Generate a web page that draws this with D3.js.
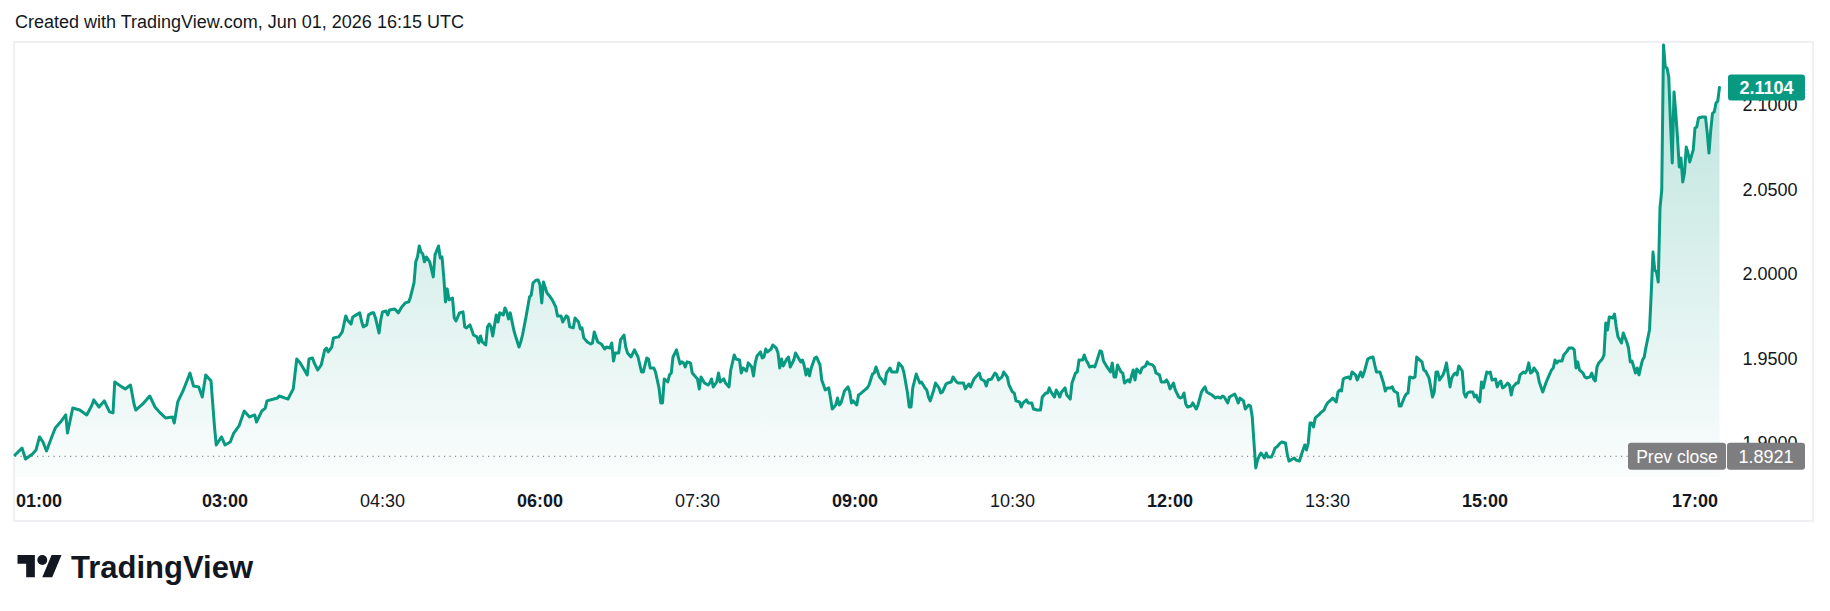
<!DOCTYPE html>
<html>
<head>
<meta charset="utf-8">
<script src="https://d3js.org/d3.v7.min.js"></script>
<style>
  html, body { margin: 0; padding: 0; background: #fff; }
  svg { display: block; font-family: "Liberation Sans", Arial, sans-serif; }
</style>
</head>
<body>
<svg id="chart" width="1830" height="611"></svg>
<script>
// minutes after 01:00 and price
const minutes = [
  0,4,6,10,12,14,16,18,21,23,26,29,30,33,37,41,44,45,48,51,54,56,57,61,63,66,68,69,73,77,80,83,86,90,91,93,96,100,102,105,
  107,109,112,114,115,118,120,123,125,128,131,134,137,138,141,143,144,150,151,156,159,161,163,167,168,
  170,171,173,175,177,178,179,181,182,185,187,189,190,192,193,195,197,198,199,201,202,204,205,206,208,209,210,212,213,214,
  217,219,221,223,225,226,228,229,230,231,232,233,234,235,237,239,240,242,243,244,245,246,247,248,250,251,252,254,256,257,
  258,260,262,264,265,266,267,269,270,271,272,273,275,276,277,279,280,281,282,283,285,286,288,289,290,292,294,295,296,298,
  299,300,301,302,304,305,307,309,310,312,313,315,316,317,319,320,322,323,324,325,327,329,330,331,333,334,
  335,337,338,340,341,342,343,345,346,348,349,350,352,354,356,358,359,361,362,363,365,366,368,369,370,371,373,374,375,376,
  378,380,381,382,383,384,386,387,389,390,391,392,394,396,397,398,399,401,402,403,405,406,408,409,411,412,414,415,416,418,
  419,421,422,423,424,426,427,428,429,430,432,433,435,436,437,438,439,441,442,443,445,446,447,449,450,451,452,453,454,455,
  457,458,460,461,463,465,466,467,469,470,471,472,474,476,477,478,479,481,482,483,485,487,488,490,491,492,494,495,497,498,500,
  501,502,504,505,507,508,510,511,512,513,515,517,518,520,521,522,523,525,526,528,529,530,532,533,535,536,538,539,541,542,
  543,545,546,548,549,551,552,554,555,556,558,560,561,562,564,565,567,568,570,571,572,574,575,576,578,579,581,582,584,586,
  587,589,590,591,592,594,595,596,597,598,600,601,603,604,606,607,608,610,611,612,613,614,616,617,618,620,621,622,624,626,
  627,628,629,630,632,633,634,636,637,639,640,641,643,644,646,647,648,650,651,652,654,655,657,658,659,660,662,663,665,666,
  667,668,669,670,672,673,675,676,678,679,680,681,683,684,686,687,689,690,691,693,694,695,697,698,699,700,702,703,705,706,
  707,708,709,710,711,712,714,715,716,718,719,720,721,723,724,726,727,728,730,731,732,734,735,737,738,739,740,741,742,743,
  745,746,748,749,750,752,753,755,756,757,758,759,760,762,763,764,766,767,769,770,771,773,774,776,777,778,780,782,783,784,
  786,787,788,790,791,792,794,795,796,797,799,800,801,802,804,805,806,808,809,810,811,812,813,814,816,817,818,819,820,821,
  822,823,824,825,827,828,829,830,831,
  833,834,835,836,837,838,839,841,842,843,844,846,847,848,849,850,851,853,854,855,856,858,859,860,862,863,864,865,866,867,
  868,870,871,872,873,875,876,878,879,880,881,882,884,885,887,888,890,891,892,893,894,896,897,898,900,901,902,903,904,905,
  907,908,909,910,911,913,914,915,916,918,919,921,922,923,924,926,927,928,929,930,931,932,934,935,936,937,938,939,940,941,
  942,943,944,945,946,947,948,949,950,951,952,953,954,955,956,957,959,960,961,962,964,966,967,968,969,970,971,972,973,974
];

const prices = [
  1.8929,1.8970,1.8905,1.8935,1.8959,1.9036,1.9006,1.8953,1.9036,1.9089,1.9124,1.9166,1.9059,1.9207,1.9195,1.9166,1.9225,1.9255,1.9213,1.9249,
  1.9184,1.9178,1.9361,1.9332,1.9320,1.9343,1.9231,1.9195,1.9231,1.9278,1.9213,1.9178,1.9148,1.9154,1.9118,1.9243,1.9308,1.9414,1.9337,1.9332,
  1.9272,1.9403,1.9367,1.9095,1.8988,1.9036,1.8988,1.9006,1.9059,1.9101,1.9189,1.9154,1.9166,1.9124,1.9189,1.9207,1.9249,1.9266,1.9278,1.9260,
  1.9320,1.9497,1.9474,1.9403,1.9497,
  1.9503,1.9474,1.9432,1.9462,1.9551,1.9562,1.9539,1.9568,1.9622,1.9628,1.9657,1.9752,1.9728,1.9704,1.9746,1.9758,1.9770,1.9722,1.9687,1.9699,
  1.9758,1.9770,1.9770,1.9740,1.9651,1.9728,1.9776,1.9781,1.9758,1.9787,1.9793,1.9770,1.9805,1.9829,1.9835,1.9864,1.9947,2.0072,2.0101,2.0166,
  2.0131,2.0119,2.0072,2.0101,2.0072,1.9983,2.0113,2.0166,2.0095,2.0101,1.9983,1.9835,1.9912,1.9847,1.9858,1.9740,1.9722,1.9770,1.9776,1.9687,
  1.9681,1.9699,1.9639,1.9628,1.9592,1.9633,1.9598,1.9580,1.9687,1.9704,1.9687,1.9633,1.9758,1.9716,1.9770,1.9758,1.9799,1.9776,1.9734,1.9770,
  1.9669,1.9633,1.9568,1.9598,1.9639,1.9746,1.9864,1.9876,1.9947,1.9965,1.9965,1.9935,1.9829,1.9953,1.9888,1.9876,1.9847,1.9805,1.9752,1.9752,
  1.9716,1.9752,1.9746,1.9687,1.9681,1.9740,1.9716,1.9675,1.9681,1.9622,1.9598,1.9586,1.9592,1.9657,1.9598,1.9592,
  1.9586,1.9556,1.9568,1.9562,1.9592,1.9485,1.9533,1.9533,1.9610,1.9639,1.9568,1.9533,1.9509,1.9551,1.9509,1.9420,1.9420,1.9503,1.9497,1.9444,
  1.9444,1.9420,1.9326,1.9237,1.9237,1.9379,1.9361,1.9403,1.9414,1.9509,1.9551,1.9468,1.9480,1.9474,1.9450,1.9480,1.9474,1.9414,1.9391,1.9379,
  1.9320,1.9391,1.9355,1.9343,1.9355,1.9379,1.9332,1.9361,1.9414,1.9361,1.9379,1.9355,1.9332,1.9432,1.9521,1.9497,1.9491,1.9414,1.9444,1.9426,
  1.9474,1.9450,1.9397,1.9474,1.9515,1.9539,1.9503,1.9509,1.9556,1.9539,1.9556,1.9580,1.9562,1.9533,1.9444,1.9497,1.9456,1.9497,1.9509,1.9450,
  1.9491,1.9533,1.9515,1.9480,1.9491,1.9456,1.9403,1.9438,1.9397,1.9444,1.9503,1.9509,1.9462,1.9373,1.9314,1.9326,1.9266,1.9201,1.9225,1.9266,
  1.9225,1.9237,1.9308,1.9332,1.9302,1.9237,1.9249,1.9225,1.9284,1.9290,1.9308,1.9326,1.9343,1.9408,1.9414,1.9450,1.9391,1.9379,1.9349,1.9414,1.9444,
  1.9420,1.9420,1.9420,1.9474,1.9450,1.9414,1.9296,1.9213,1.9213,1.9326,1.9408,1.9355,1.9361,1.9326,1.9314,1.9272,1.9249,1.9314,1.9355,1.9326,
  1.9296,1.9302,1.9349,1.9355,1.9361,1.9391,1.9361,1.9355,1.9355,1.9355,1.9320,1.9349,1.9332,1.9379,1.9391,1.9414,1.9379,1.9367,1.9337,1.9373,
  1.9379,1.9414,1.9403,1.9373,1.9391,1.9420,1.9391,1.9343,1.9302,1.9296,1.9249,1.9243,1.9213,1.9237,1.9255,1.9237,1.9237,1.9201,1.9195,1.9195,
  1.9272,1.9296,1.9296,1.9326,1.9302,1.9272,1.9314,1.9296,1.9272,1.9302,1.9326,1.9284,1.9260,1.9355,1.9414,1.9420,1.9491,1.9491,1.9521,1.9491,
  1.9474,1.9450,1.9456,1.9450,1.9480,1.9545,1.9539,1.9485,1.9450,1.9420,1.9474,1.9391,1.9391,1.9462,1.9420,1.9414,1.9355,1.9373,1.9361,1.9432,
  1.9373,1.9438,1.9414,1.9444,1.9456,1.9480,1.9468,1.9462,1.9450,1.9414,1.9403,1.9361,1.9361,1.9373,1.9355,1.9320,1.9355,1.9314,1.9272,1.9266,
  1.9272,1.9296,1.9231,1.9213,1.9219,1.9237,1.9201,1.9225,1.9302,1.9320,1.9332,1.9302,1.9290,1.9284,1.9266,1.9272,1.9266,1.9278,1.9272,1.9237,
  1.9272,1.9278,1.9290,1.9266,1.9237,1.9266,1.9249,1.9201,1.9225,1.9219,1.9154,1.9000,1.8852,1.8899,1.8923,1.8941,1.8911,1.8941,1.8917,1.8917,
  1.8941,1.8970,1.8976,1.9000,1.9006,1.9000,1.8935,1.8893,1.8905,1.8911,1.8899,1.8893,1.8929,1.8988,1.8959,1.9000,1.9118,1.9118,1.9095,1.9148,
  1.9166,1.9178,1.9195,1.9219,1.9237,1.9255,1.9266,1.9243,1.9302,1.9314,1.9308,1.9379,1.9385,1.9391,1.9379,1.9420,1.9403,1.9373,1.9420,1.9391,
  1.9420,1.9497,1.9503,1.9509,1.9462,1.9420,1.9420,1.9355,1.9308,1.9326,1.9326,1.9332,1.9308,1.9296,1.9219,1.9219,1.9272,1.9290,1.9296,1.9391,
  1.9385,1.9391,1.9509,1.9497,1.9480,1.9432,1.9426,1.9385,1.9332,1.9272,1.9302,1.9420,1.9420,1.9373,1.9403,1.9432,1.9474,1.9403,1.9332,1.9385,
  1.9403,1.9414,1.9403,1.9456,1.9426,1.9296,1.9272,1.9296,1.9302,
  1.9302,1.9272,1.9284,1.9255,1.9243,1.9361,1.9326,1.9420,1.9414,1.9420,1.9373,1.9379,1.9332,1.9355,1.9367,1.9326,1.9332,1.9355,1.9343,1.9284,
  1.9332,1.9355,1.9355,1.9403,1.9420,1.9414,1.9432,1.9474,1.9414,1.9420,1.9444,1.9414,1.9361,1.9332,1.9302,1.9361,1.9385,1.9432,1.9444,1.9491,
  1.9474,1.9485,1.9485,1.9521,1.9545,1.9562,1.9562,1.9551,1.9444,1.9480,1.9432,1.9414,1.9391,1.9385,1.9391,1.9414,1.9379,1.9367,1.9450,1.9474,
  1.9497,1.9521,1.9710,1.9669,1.9746,1.9740,1.9763,1.9687,1.9628,1.9592,1.9651,1.9598,1.9562,1.9480,1.9485,1.9414,1.9444,1.9403,1.9450,1.9491,
  1.9509,1.9568,1.9669,1.9888,2.0130,2.0024,2.0012,1.9953,2.0391,2.0497,2.1355,2.1225,2.1219,2.1166,2.0893,2.0657,2.1077,2.0953,2.0805,2.0633,
  2.0686,2.0544,2.0598,2.0751,2.0716,2.0663,2.0734,2.0864,2.0870,2.0923,2.0929,2.0929,2.0834,2.0716,2.0852,2.0950,2.0959,2.1012,2.1024,2.1104
];

const tickLabels = ["01:00", "03:00", "04:30", "06:00", "07:30", "09:00", "10:30", "12:00", "13:30", "15:00", "17:00"];
const priceTicks = [1.90, 1.95, 2.00, 2.05, 2.10];
const prevClose = 1.8921;
const titleText = "Created with TradingView.com, Jun 01, 2026 16:15 UTC";

const svg = d3.select("#chart");
const green = "#089981";
const textColor = "#131722";

const base = Date.UTC(2026, 5, 1, 1, 0);
const data = minutes.map((m, i) => ({ t: new Date(base + m * 60000), v: prices[i] }));
const parseHM = d3.utcParse("%Y-%m-%d %H:%M");

// layout
const panel = { x: 14, y: 42, w: 1799, h: 479 };
const plotBottom = 477;

const x = d3.scaleUtc()
    .domain([new Date(base), new Date(base + 975 * 60000)])
    .range([15, 15 + 975 * 1.75]);

const y = d3.scaleLinear()
    .domain([1.9, 2.1])
    .range([443, 105]);

// title
svg.append("text")
    .attr("x", 15)
    .attr("y", 28)
    .attr("font-size", 18)
    .attr("fill", textColor)
    .text(titleText);

// panel frame
svg.append("rect")
    .attr("x", panel.x).attr("y", panel.y)
    .attr("width", panel.w).attr("height", panel.h)
    .attr("fill", "#fff")
    .attr("stroke", "#eef0f3")
    .attr("stroke-width", 2);

// gradient for area
const defs = svg.append("defs");
const grad = defs.append("linearGradient")
    .attr("id", "areaGrad")
    .attr("gradientUnits", "userSpaceOnUse")
    .attr("x1", 0).attr("x2", 0)
    .attr("y1", panel.y).attr("y2", plotBottom);
grad.append("stop").attr("offset", "0%").attr("stop-color", green).attr("stop-opacity", 0.28);
grad.append("stop").attr("offset", "100%").attr("stop-color", green).attr("stop-opacity", 0.02);

const area = d3.area()
    .x(d => x(d.t))
    .y0(plotBottom)
    .y1(d => y(d.v));

const line = d3.line()
    .x(d => x(d.t))
    .y(d => y(d.v));

svg.append("path")
    .datum(data)
    .attr("d", area)
    .attr("fill", "url(#areaGrad)");

// previous close dotted line
const pcY = y(prevClose);
svg.append("line")
    .attr("x1", 15).attr("x2", 1628)
    .attr("y1", pcY).attr("y2", pcY)
    .attr("stroke", "#8a8d95")
    .attr("stroke-width", 1.2)
    .attr("stroke-dasharray", "1.2,4.3");

svg.append("path")
    .datum(data)
    .attr("d", line)
    .attr("fill", "none")
    .attr("stroke", green)
    .attr("stroke-width", 3)
    .attr("stroke-linejoin", "round")
    .attr("stroke-linecap", "round");

// price axis labels
const fmt = d3.format(".4f");
svg.append("g")
    .selectAll("text")
    .data(priceTicks)
    .join("text")
    .attr("x", 1770)
    .attr("y", d => y(d))
    .attr("dy", "0.35em")
    .attr("text-anchor", "middle")
    .attr("font-size", 18)
    .attr("fill", textColor)
    .text(d => fmt(d));

// last price badge
const last = data[data.length - 1];
const lastY = y(last.v);
svg.append("rect")
    .attr("x", 1728).attr("y", lastY - 13)
    .attr("width", 77).attr("height", 26)
    .attr("rx", 3)
    .attr("fill", green);
svg.append("text")
    .attr("x", 1766.5).attr("y", lastY)
    .attr("dy", "0.36em")
    .attr("text-anchor", "middle")
    .attr("font-size", 18)
    .attr("font-weight", "bold")
    .attr("fill", "#fff")
    .text(fmt(last.v));

// prev close badge
const grey = "#7e7e80";
svg.append("rect")
    .attr("x", 1628).attr("y", pcY - 13.5)
    .attr("width", 98).attr("height", 27)
    .attr("rx", 3)
    .attr("fill", grey);
svg.append("rect")
    .attr("x", 1727).attr("y", pcY - 13.5)
    .attr("width", 78).attr("height", 27)
    .attr("rx", 3)
    .attr("fill", grey);
svg.append("text")
    .attr("x", 1677).attr("y", pcY)
    .attr("dy", "0.36em")
    .attr("text-anchor", "middle")
    .attr("font-size", 17.5)
    .attr("fill", "#fff")
    .text("Prev close");
svg.append("text")
    .attr("x", 1766).attr("y", pcY)
    .attr("dy", "0.36em")
    .attr("text-anchor", "middle")
    .attr("font-size", 18)
    .attr("fill", "#fff")
    .text(fmt(prevClose));

// time axis labels
svg.append("g")
    .selectAll("text")
    .data(tickLabels)
    .join("text")
    .attr("x", d => Math.max(x(parseHM("2026-06-01 " + d)), 39))
    .attr("y", 507)
    .attr("text-anchor", "middle")
    .attr("font-size", 18)
    .attr("font-weight", d => d.endsWith(":00") ? "bold" : "normal")
    .attr("fill", textColor)
    .text(d => d);

// TradingView logo
const logo = svg.append("g").attr("transform", "translate(17.5,550) scale(1.24)");
logo.append("path")
    .attr("d", "M14 22H7V11H0V4h14v18zM28 22h-8l7.5-18h8L28 22z")
    .attr("fill", textColor);
logo.append("circle")
    .attr("cx", 20).attr("cy", 8).attr("r", 4)
    .attr("fill", textColor);
svg.append("text")
    .attr("x", 71)
    .attr("y", 578)
    .attr("font-size", 31)
    .attr("font-weight", "bold")
    .attr("fill", textColor)
    .text("TradingView");
</script>
</body>
</html>
